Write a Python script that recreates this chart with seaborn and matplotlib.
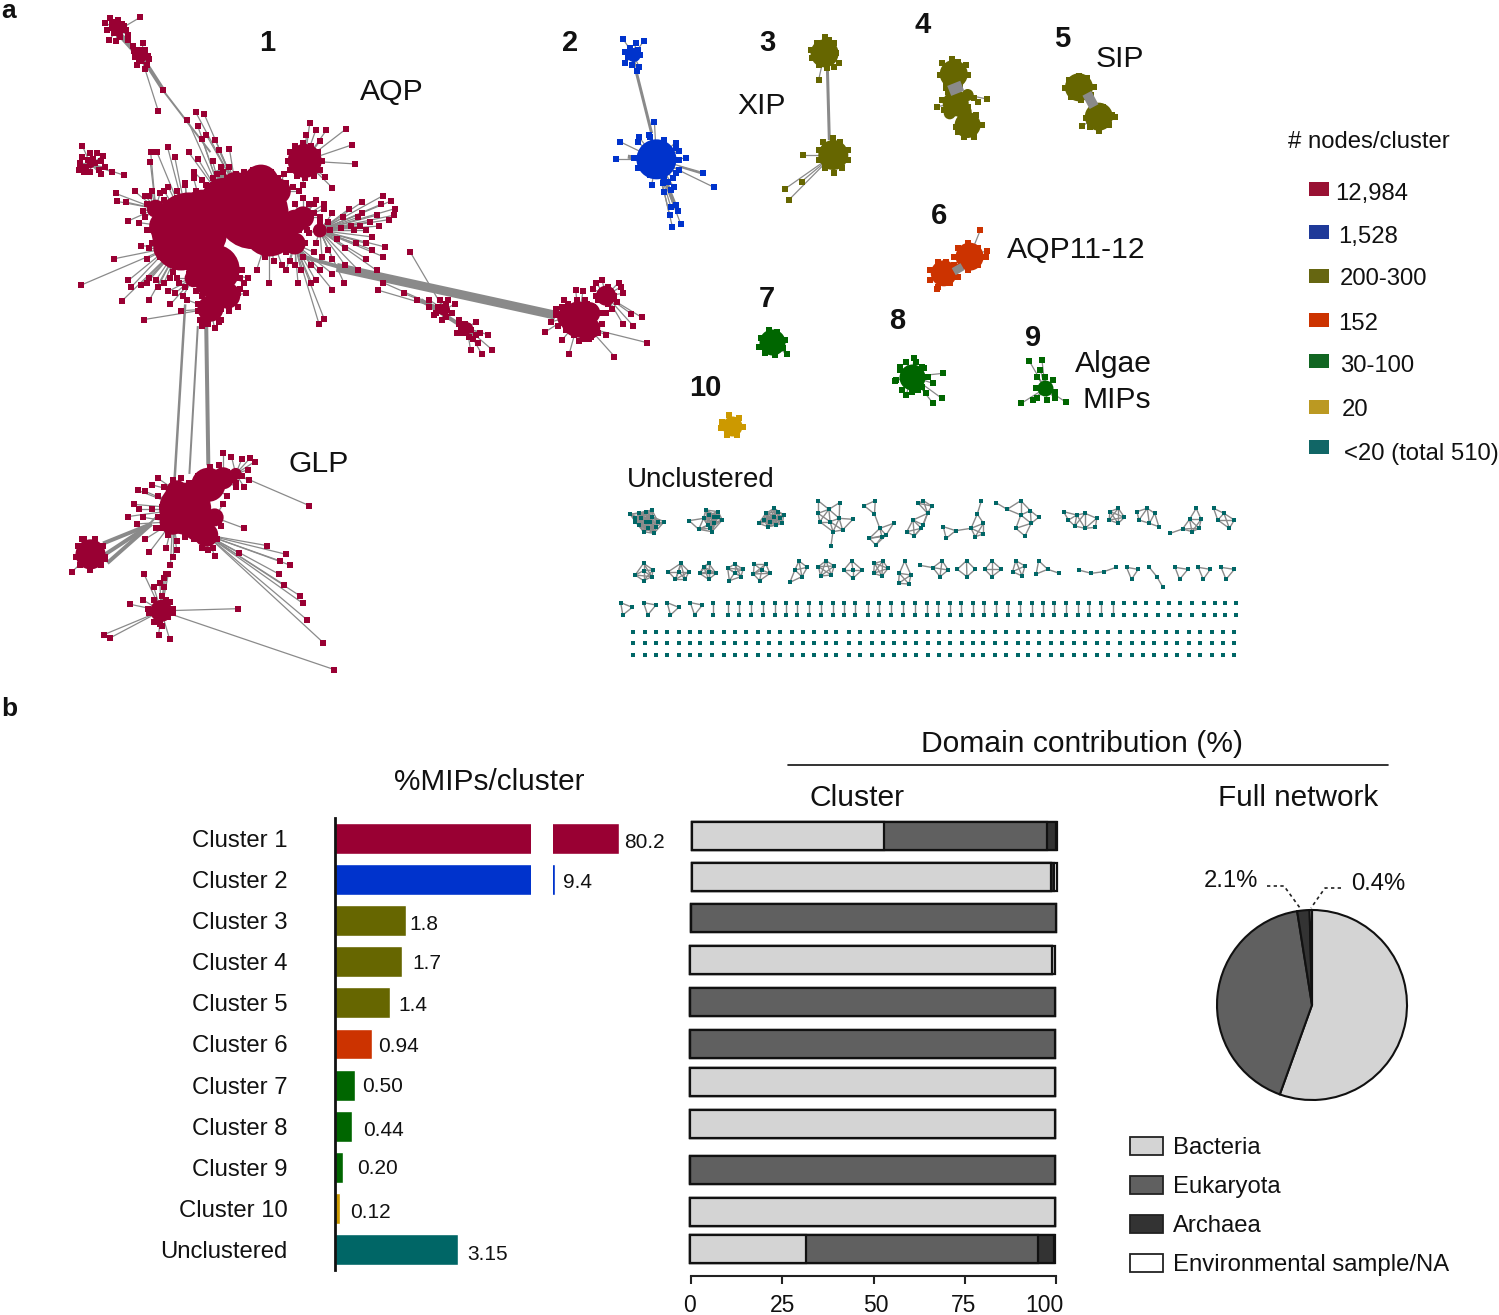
import numpy as np
import pandas as pd
import matplotlib
matplotlib.use('Agg')
import matplotlib.pyplot as plt
from matplotlib.collections import LineCollection
from matplotlib.patches import Rectangle
from matplotlib.transforms import ScaledTranslation
import seaborn as sns

W, H = 1499, 1315

# ---- panel b values
bar_names = ['Cluster 1', 'Cluster 2', 'Cluster 3', 'Cluster 4', 'Cluster 5', 'Cluster 6',
             'Cluster 7', 'Cluster 8', 'Cluster 9', 'Cluster 10', 'Unclustered']
bar_values = [80.2, 9.4, 1.8, 1.7, 1.4, 0.94, 0.50, 0.44, 0.20, 0.12, 3.15]
bar_labels = ['80.2', '9.4', '1.8', '1.7', '1.4', '0.94', '0.50', '0.44', '0.20', '0.12', '3.15']
bar_colors = ['#990033', '#0033cc', '#666600', '#666600', '#666600', '#cc3300',
              '#006600', '#006600', '#006600', '#cc9900', '#006666']

domain_names = ['Bacteria', 'Eukaryota', 'Archaea', 'Environmental sample/NA']
domain_colors = ['#d4d4d4', '#606060', '#333333', '#ffffff']
bacteria = [52.7, 98.3, 0, 99.2, 0, 0, 100, 100, 0, 100, 31.8]
eukaryota = [44.8, 0, 100, 0, 100, 100, 0, 0, 100, 0, 63.8]
archaea = [2.4, 0.9, 0, 0, 0, 0, 0, 0, 0, 0, 4.3]
environmental = [0.1, 0.8, 0, 0.8, 0, 0, 0, 0, 0, 0, 0.1]
row_y = [836, 877, 918, 960, 1002, 1044, 1082, 1124, 1170, 1212, 1249]

full_network = [55.5, 42, 2.1, 0.4]

c1_hubs = [(450, 530, 38), (600, 490, 36), (620, 420, 18), (510, 620, 25), (430, 560, 27), (640, 530, 26),
           (500, 710, 13), (724, 370, 17), (530, 460, 22), (700, 510, 12), (390, 520, 15), (400, 570, 15),
           (700, 560, 11), (720, 500, 11), (480, 480, 19), (560, 430, 15), (660, 440, 13), (470, 600, 15),
           (540, 680, 13), (500, 650, 15), (460, 640, 9), (760, 530, 7), (370, 480, 9),
           (1375, 735, 18), (1440, 680, 10), (1350, 730, 11), (1400, 720, 11), (1400, 755, 11),
           (1055, 712, 6), (1110, 755, 6), (440, 1170, 26), (495, 1115, 17), (490, 1230, 12),
           (420, 1130, 11), (410, 1200, 13), (470, 1210, 15), (510, 1190, 9), (530, 1100, 11), (560, 1090, 6),
           (215, 1275, 15), (383, 1405, 11), (280, 70, 6), (335, 130, 6), (215, 378, 4)]
c1_nodes = [(333, 40), (262, 42), (250, 52), (258, 92), (275, 60), (290, 55), (300, 70), (285, 85), (270, 75),
            (305, 92), (340, 100), (318, 118), (352, 128), (335, 140), (325, 150), (345, 158), (355, 135),
            (315, 105), (388, 207), (376, 255), (465, 258), (485, 262), (445, 275), (470, 290), (490, 310),
            (480, 320), (512, 322), (545, 342), (520, 345), (505, 370), (525, 385), (196, 336), (190, 375),
            (188, 392), (200, 395), (215, 352), (230, 352), (245, 358), (225, 375), (210, 368), (240, 400),
            (265, 395), (295, 403), (358, 350), (373, 350), (357, 372), (398, 338), (415, 360), (448, 350),
            (470, 365), (460, 395), (440, 420), (465, 440), (736, 282), (750, 300), (775, 300), (823, 296),
            (837, 333), (843, 377), (772, 407), (790, 432), (728, 310), (760, 325), (700, 340), (675, 400),
            (910, 450), (930, 462), (938, 480), (936, 495), (925, 505), (895, 495), (905, 470), (860, 465),
            (860, 490), (830, 480), (815, 500), (790, 490), (770, 480), (745, 470), (855, 520), (840, 530),
            (885, 545), (870, 560), (885, 575), (915, 568), (975, 580), (910, 590), (870, 595), (850, 620),
            (895, 622), (820, 610), (790, 630), (760, 620), (740, 650), (750, 645), (790, 667), (818, 652),
            (897, 667), (910, 650), (720, 590), (700, 610), (730, 530), (750, 560), (780, 575), (800, 550),
            (760, 510), (720, 510), (277, 463), (275, 445), (305, 508), (330, 512), (335, 565), (272, 595),
            (350, 595), (300, 465), (320, 440), (340, 485), (355, 450), (375, 500), (360, 530), (390, 440),
            (420, 455), (380, 590), (192, 656), (312, 660), (305, 645), (355, 640), (375, 660), (290, 692),
            (355, 690), (342, 735), (405, 700), (435, 680), (430, 715), (420, 640), (400, 670), (450, 630),
            (565, 705), (585, 675), (570, 640), (590, 640), (540, 700), (555, 690), (770, 733), (758, 745),
            (640, 650), (610, 620), (680, 620), (708, 650), (480, 750), (495, 745), (510, 755), (525, 735),
            (545, 715), (470, 715), (960, 675), (990, 690), (1020, 705), (1045, 690), (1065, 690), (1030, 725),
            (1050, 735), (1075, 720), (1090, 745), (1110, 750), (1130, 740), (1100, 765), (1125, 780),
            (1140, 765), (1160, 770), (1170, 805), (1145, 815), (1118, 805), (1135, 790), (1340, 690),
            (1368, 668), (1385, 670), (1415, 650), (1430, 643), (1445, 660), (1470, 650), (1480, 675),
            (1465, 695), (1440, 720), (1500, 722), (1525, 730), (1505, 750), (1480, 745), (1537, 788),
            (1460, 820), (1440, 770), (1400, 780), (1375, 785), (1352, 815), (1335, 783), (1310, 740),
            (1296, 763), (1320, 710), (1420, 690), (1395, 700), (595, 1053), (605, 1062), (530, 1042),
            (550, 1050), (575, 1055), (590, 1080), (592, 1105), (560, 1110), (735, 1163), (580, 1120),
            (360, 1115), (375, 1100), (328, 1128), (345, 1130), (318, 1160), (330, 1170), (340, 1190),
            (305, 1188), (325, 1205), (345, 1240), (355, 1270), (170, 1316), (195, 1240), (250, 1285),
            (580, 1215), (568, 1272), (510, 1278), (495, 1265), (520, 1200), (635, 1255), (665, 1290),
            (680, 1275), (690, 1300), (662, 1320), (675, 1345), (712, 1370), (720, 1388), (730, 1426),
            (768, 1478), (794, 1540), (565, 1400), (420, 1265), (405, 1300), (390, 1330), (342, 1320),
            (340, 1380), (310, 1390), (246, 1460), (262, 1467), (377, 1460), (403, 1470), (365, 1350),
            (395, 1380), (410, 1410), (355, 1410), (380, 1435)]
# denser fringe around the big lobes
c1_fringe = [(345, 450), (360, 440), (380, 445), (400, 430), (420, 440), (440, 425), (460, 410), (480, 415), (350, 470),
             (365, 480), (345, 500), (370, 510), (350, 530), (375, 545), (360, 560), (375, 575), (355, 570), (385, 590),
             (400, 600), (420, 610), (440, 600), (460, 620), (390, 460), (410, 470), (395, 490), (420, 490),
             (500, 430), (520, 420), (540, 410), (560, 400), (580, 395), (600, 390), (625, 390), (645, 395), (660, 410),
             (680, 420), (695, 430), (710, 440), (720, 425), (545, 385), (530, 395), (515, 400), (505, 410), (490, 425),
             (700, 470), (720, 455), (735, 470), (750, 460), (770, 470), (700, 490), (720, 490), (745, 490), (760, 500),
             (780, 510), (730, 510), (710, 530), (735, 535), (760, 535), (785, 530), (810, 525), (835, 520), (700, 555),
             (725, 560), (745, 580), (765, 590), (790, 595), (820, 570), (845, 560), (870, 530), (880, 510), (900, 520),
             (850, 500), (740, 610), (715, 620), (690, 600), (670, 610), (650, 600), (630, 590), (680, 580),
             (470, 590), (460, 610), (450, 640), (470, 650), (440, 660), (465, 670), (480, 680), (470, 700), (490, 690),
             (510, 680), (530, 670), (550, 650), (560, 630), (575, 620), (570, 665), (555, 680), (540, 695), (525, 710),
             (505, 725), (490, 735), (475, 735), (520, 740), (545, 705), (565, 675), (580, 650),
             (410, 625), (425, 650), (405, 640), (390, 650), (370, 645), (350, 650), (335, 655), (445, 690), (415, 675),
             (690, 350), (700, 335), (720, 330), (740, 335), (755, 350), (765, 370), (760, 390), (745, 405), (725, 410),
             (705, 405), (690, 390), (685, 370), (195, 360), (205, 385), (220, 365), (240, 370), (215, 395), (190, 385),
             (235, 390), (250, 385), (265, 50), (280, 45), (295, 60), (305, 80), (265, 65), (255, 70), (275, 95), (330, 115),
             (340, 125), (350, 150), (330, 135), (320, 130), (345, 115), (1020, 690), (1040, 705), (1060, 700), (1050, 715),
             (1080, 700), (1035, 720), (1060, 730), (1090, 735), (1105, 745), (1120, 760), (1130, 770), (1095, 755),
             (1085, 765), (1115, 775), (1320, 725), (1335, 705), (1350, 700), (1370, 690), (1390, 690), (1410, 705),
             (1425, 720), (1430, 745), (1420, 765), (1405, 775), (1385, 780), (1365, 770), (1345, 760), (1325, 750),
             (1415, 680), (1430, 670), (1450, 670), (1460, 680), (1445, 700), (1425, 690), (1410, 665), (1455, 710),
             (1475, 660), (390, 1120), (410, 1105), (430, 1100), (450, 1110), (470, 1095), (500, 1075), (520, 1070),
             (540, 1085), (555, 1100), (575, 1095), (560, 1120), (540, 1140), (530, 1160), (515, 1185), (525, 1210),
             (515, 1240), (505, 1260), (480, 1260), (460, 1240), (440, 1235), (420, 1245), (400, 1230), (385, 1215),
             (375, 1190), (385, 1165), (375, 1140), (360, 1170), (370, 1215), (395, 1260), (410, 1280), (400, 1320),
             (185, 1255), (200, 1240), (225, 1240), (245, 1255), (250, 1280), (240, 1300), (215, 1310), (190, 1300),
             (180, 1280), (365, 1380), (385, 1370), (405, 1385), (410, 1400), (400, 1420), (385, 1440), (365, 1430),
             (352, 1400), (390, 1350), (395, 1320), (380, 1340)]
c1_bundles = [(800, 615, 1320, 725, 9), (720, 590, 900, 640, 4), (385, 205, 500, 350, 2), (350, 150, 390, 210, 4),
              (490, 750, 495, 1070, 4), (440, 700, 415, 1100, 2.5), (470, 750, 450, 1090, 2),
              (360, 1205, 245, 1250, 4), (360, 1205, 250, 1275, 4), (360, 1205, 255, 1295, 4), (330, 1230, 370, 1190, 2),
              (280, 75, 350, 150, 5), (1000, 690, 1130, 770, 4), (520, 390, 530, 420, 8)]

c2_hubs = [(142, 478, 20), (85, 165, 7)]
c2_nodes = [(58, 117), (110, 123), (90, 130), (62, 155), (75, 145), (95, 150), (85, 170), (70, 170), (63, 188),
            (80, 195), (98, 200), (92, 212), (100, 165), (137, 367), (124, 405), (97, 410), (50, 425), (40, 478),
            (217, 475), (200, 452), (190, 428), (260, 518), (287, 562), (200, 510), (130, 555), (158, 550),
            (183, 535), (178, 570), (160, 575), (190, 615), (195, 632), (178, 620), (175, 645), (203, 672), (182, 680),
            (95, 425), (125, 410), (160, 420), (190, 445), (200, 480), (190, 520), (160, 530), (125, 525), (95, 505),
            (85, 475), (170, 545), (185, 560)]
c2_bundles = [(90, 210, 130, 400, 3), (160, 530, 190, 620, 4), (70, 470, 100, 475, 4), (200, 500, 255, 520, 2)]

c3_hubs = [(565, 160, 14), (587, 465, 15)]
c3_nodes = [(550, 240), (510, 465), (507, 545), (465, 567), (475, 600), (565, 112), (545, 130), (530, 150), (533, 175),
            (550, 195), (570, 205), (590, 200), (602, 190), (595, 160), (590, 130), (575, 120), (585, 415), (560, 425),
            (550, 450), (552, 480), (565, 505), (590, 518), (610, 505), (625, 480), (625, 450), (605, 425)]
c3_bundles = [(572, 200, 577, 420, 3)]

c4_hubs = [(890, 222, 14), (895, 310, 13), (925, 375, 13), (915, 335, 8), (880, 340, 6), (925, 285, 6)]
c4_nodes = [(973, 297), (952, 307), (848, 320), (870, 265), (885, 178), (860, 190), (855, 225), (870, 255), (905, 250),
            (925, 225), (920, 195), (900, 185), (875, 275), (860, 300), (865, 330), (925, 280), (940, 295), (905, 265),
            (880, 345), (895, 380), (915, 410), (940, 410), (960, 375), (945, 345), (925, 320), (900, 395)]
c4_bundles = [(890, 250, 900, 280, 14)]

c5_hubs = [(1205, 262, 14), (1255, 350, 14)]
c5_nodes = [(1212, 378), (1295, 350), (1205, 228), (1180, 240), (1170, 265), (1185, 290), (1210, 300), (1235, 285),
            (1242, 260), (1225, 235), (1240, 310), (1265, 320), (1288, 345), (1280, 375), (1255, 392), (1232, 380),
            (1222, 355), (1240, 325)]
c5_bundles = [(1225, 280, 1243, 320, 10)]

c6_hubs = [(930, 770, 14), (865, 820, 13)]
c6_nodes = [(957, 690), (973, 752), (847, 868), (925, 730), (900, 745), (890, 770), (900, 800), (925, 810), (950, 795),
            (970, 770), (950, 745), (850, 785), (830, 810), (830, 840), (850, 860), (880, 850), (900, 830), (890, 795),
            (870, 785)]
c6_bundles = [(890, 815, 912, 800, 8)]

c7_hubs = [(432, 1027, 13)]
c7_nodes = [(470, 1063), (440, 1065), (415, 1060), (425, 990), (405, 1015), (400, 1040), (460, 1045), (465, 1020), (445, 995)]

c8_hubs = [(785, 1130, 13)]
c8_nodes = [(790, 1075), (863, 1120), (860, 1195), (838, 1210), (838, 1150), (820, 1180), (770, 1185), (745, 1140),
            (810, 1100), (755, 1100), (800, 1170), (770, 1085), (755, 1110), (742, 1142), (760, 1170), (785, 1175),
            (810, 1160), (825, 1130), (815, 1105), (795, 1085)]

c9_hubs = [(1120, 1165, 8)]
c9_nodes = [(1080, 1083), (1112, 1080), (1108, 1110), (1060, 1210), (1090, 1200), (1173, 1207), (1145, 1195),
            (1100, 1130), (1098, 1165), (1100, 1195), (1125, 1200), (1145, 1175), (1140, 1140), (1120, 1130)]

c10_hubs = [(332, 1277, 10)]
c10_nodes = [(325, 1245), (308, 1265), (305, 1285), (320, 1305), (345, 1305), (360, 1280), (350, 1255)]

# small unclustered networks, rows
small_nets = [
    [(73, 163), (85, 175), (110, 155), (125, 170), (155, 185), (95, 195), (105, 215), (130, 220), (135, 200), (110, 185),
     (95, 160), (120, 185), (100, 175), (115, 205), (85, 185), (125, 150), (140, 185)],
    [(215, 182), (238, 208), (255, 150), (285, 155), (295, 180), (270, 215), (250, 175), (275, 190), (262, 165), (285, 170),
     (260, 195), (275, 170), (265, 205)],
    [(383, 190), (420, 145), (443, 165), (440, 190), (405, 200), (420, 170), (400, 160), (410, 185), (430, 155), (425, 195),
     (395, 180), (435, 175)],
    [(526, 122), (578, 128), (526, 160), (552, 148), (530, 185), (555, 185), (577, 175), (610, 178), (585, 210), (562, 215), (557, 258)],
    [(637, 137), (664, 122), (662, 162), (708, 190), (675, 205), (650, 235), (690, 225), (665, 255), (680, 230)],
    [(780, 122), (800, 138), (768, 130), (790, 160), (755, 180), (780, 195), (740, 215), (758, 228), (775, 205)],
    [(828, 200), (858, 212), (835, 235), (895, 205), (910, 162), (920, 122), (925, 190), (905, 230), (925, 222)],
    [(955, 128), (982, 148), (1015, 122), (1015, 165), (1038, 152), (1058, 172), (1003, 205), (1025, 228), (1040, 190)],
    [(1118, 155), (1130, 180), (1150, 165), (1170, 160), (1145, 198), (1170, 205), (1198, 175), (1195, 202)],
    [(1230, 155), (1250, 145), (1265, 172), (1250, 190), (1228, 180)],
    [(1295, 155), (1320, 145), (1338, 160), (1300, 180), (1325, 190), (1348, 200)],
    [(1375, 220), (1405, 207), (1428, 215), (1422, 178), (1450, 178), (1438, 145), (1445, 205)],
    [(1480, 145), (1505, 160), (1530, 180), (1490, 180), (1518, 205)],
    [(105, 310), (128, 330), (125, 350), (105, 362), (85, 345), (105, 332)],
    [(195, 310), (215, 335), (205, 358), (182, 358), (165, 335), (190, 335)],
    [(262, 310), (280, 340), (262, 358), (240, 340), (250, 320), (262, 335)],
    [(325, 312), (345, 328), (340, 350), (312, 362), (308, 325), (325, 338)],
    [(372, 312), (400, 312), (410, 340), (385, 362), (370, 342), (390, 330)],
    [(480, 303), (500, 322), (470, 330), (487, 350), (458, 367)],
    [(545, 302), (565, 318), (558, 345), (532, 348), (527, 320)],
    [(607, 302), (632, 330), (610, 355), (588, 330), (610, 330)],
    [(662, 310), (682, 303), (695, 325), (680, 348), (660, 340)],
    [(735, 303), (750, 345), (745, 372), (720, 370), (722, 340)],
    [(772, 316), (803, 323), (825, 302), (840, 330), (820, 350)],
    [(884, 302), (905, 328), (885, 350), (862, 328)],
    [(945, 302), (968, 328), (945, 350), (928, 328)],
    [(1003, 302), (1025, 318), (1018, 348), (995, 335)],
    [(1058, 302), (1080, 328), (1052, 342), (1108, 340)],
    [(1155, 330), (1185, 340), (1215, 335), (1245, 322)],
    [(1270, 322), (1298, 328), (1282, 358)],
    [(1325, 322), (1343, 350), (1358, 382)],
    [(1387, 322), (1418, 328), (1398, 358)],
    [(1443, 322), (1472, 328), (1455, 358)],
    [(1498, 322), (1530, 328), (1510, 358)],
    [(50, 428), (78, 442), (55, 465)],
    [(105, 428), (135, 435), (115, 465)],
    [(162, 428), (190, 442), (170, 465)],
    [(218, 428), (247, 435), (228, 465)],
]
pair_x = [273, 308, 336, 364, 392, 421, 449, 476, 505, 534, 561, 588, 616, 646, 674, 702, 730, 760, 788, 815,
          843, 871, 900, 926, 955, 984, 1012, 1041, 1068, 1096, 1125, 1153, 1180, 1208, 1238]
pair_y = [428, 465]
lone_pair_x = [1265, 1290, 1318, 1346, 1373, 1400, 1428, 1456, 1484, 1508, 1535]
lone_row_x = [80, 108, 135, 162, 190, 216, 242, 270, 298, 325, 353, 380, 408, 435, 462, 490, 516, 544, 570, 600,
              628, 655, 682, 708, 736, 762, 790, 818, 845, 872, 900, 925, 952, 980, 1008, 1033, 1060, 1088, 1115,
              1143, 1170, 1198, 1225, 1255, 1282, 1310, 1337, 1364, 1392, 1420, 1447, 1475, 1502, 1530]
lone_row_y = [515, 550, 584]

network_sizes = ['12,984', '1,528', '200-300', '152', '30-100', '20', '<20 (total 510)']
network_colors = ['#991133', '#1f3a99', '#666611', '#cc3300', '#116622', '#bb9922', '#116666']

sns.set_style('white')
plt.rcParams['font.family'] = ['Liberation Sans', 'DejaVu Sans']
plt.rcParams['text.color'] = '#111111'
plt.rcParams['xtick.labelcolor'] = '#111111'
plt.rcParams['ytick.labelcolor'] = '#111111'
EDGE = '#8a8a8a'
FS = 17.2

fig = plt.figure(figsize=(W / 100, H / 100), dpi=100, facecolor='white')


def px_axes(left, top, right, bottom):
    ax = fig.add_axes([left / W, 1 - bottom / H, (right - left) / W, (bottom - top) / H])
    ax.patch.set_alpha(0)
    return ax


page = px_axes(0, 0, W, H)
page.set_xlim(0, W)
page.set_ylim(H, 0)
page.set_axis_off()


def put(x, y, txt, size=FS, ha='center', **kw):
    # text sits about 2px high with va=center
    page.text(x, y + 2, txt, fontsize=size, ha=ha, va='center', **kw)


def from_crop(pts, x0, y0, fx, fy):
    arr = np.array(pts, dtype=float)
    arr[:, 0] = x0 + arr[:, 0] / fx
    arr[:, 1] = y0 + arr[:, 1] / fy
    return arr


def draw_network(hubs, nodes, bundles, color, x0, y0, fx, fy, node_size=13, bundle_z=1):
    hub_xy = from_crop([h[:2] for h in hubs], x0, y0, fx, fy)
    radius = np.array([h[2] for h in hubs], dtype=float)
    xy = from_crop(nodes, x0, y0, fx, fy)
    dist = np.sqrt(((xy[:, None, :] - hub_xy[None, :, :]) ** 2).sum(axis=2)) - radius
    nearest = np.argmin(dist, axis=1)
    segs = [[tuple(p), tuple(hub_xy[i])] for p, i in zip(xy, nearest)]
    page.add_collection(LineCollection(segs, colors=EDGE, linewidths=0.9, zorder=1))
    for b in bundles:
        a = from_crop([b[:2], b[2:4]], x0, y0, fx, fy)
        page.plot(a[:, 0], a[:, 1], color=EDGE, lw=b[4] * 0.72, zorder=bundle_z, solid_capstyle='butt')
    sns.scatterplot(x=hub_xy[:, 0], y=hub_xy[:, 1], s=(1.44 * radius) ** 2, color=color, linewidth=0,
                    ax=page, zorder=3, legend=False)
    sns.scatterplot(x=xy[:, 0], y=xy[:, 1], s=node_size, marker='s', color=color, linewidth=0,
                    ax=page, zorder=4, legend=False)


C1 = (0, 0, 2.376, 2.3)
C6 = (600, 0, 2.516, 3.0)
draw_network(c1_hubs, c1_nodes + c1_fringe, c1_bundles, '#990033', *C1)
draw_network(c2_hubs, c2_nodes, c2_bundles, '#0033cc', *C6)
draw_network(c3_hubs, c3_nodes, c3_bundles, '#666600', *C6)
draw_network(c4_hubs, c4_nodes, c4_bundles, '#666600', *C6, bundle_z=5)
draw_network(c5_hubs, c5_nodes, c5_bundles, '#666600', *C6, bundle_z=5)
draw_network(c6_hubs, c6_nodes, c6_bundles, '#cc3300', *C6, bundle_z=5)
draw_network(c7_hubs, c7_nodes, [], '#006600', *C6)
draw_network(c8_hubs, c8_nodes, [], '#006600', *C6)
draw_network(c9_hubs, c9_nodes, [], '#006600', *C6)
draw_network(c10_hubs, c10_nodes, [], '#cc9900', *C6)

# unclustered networks
U = (600, 460, 2.412, 3.0)
segs, pts = [], []
for net in small_nets:
    xy = from_crop(net, *U)
    pts.append(xy)
    for i in range(len(xy)):
        for j in range(i + 1, len(xy)):
            if np.hypot(*(xy[i] - xy[j])) < 17:
                segs.append([tuple(xy[i]), tuple(xy[j])])
for x in pair_x:
    xy = from_crop([(x, pair_y[0]), (x, pair_y[1])], *U)
    pts.append(xy)
    segs.append([tuple(xy[0]), tuple(xy[1])])
for x in lone_pair_x:
    pts.append(from_crop([(x, pair_y[0]), (x, pair_y[1])], *U))
for y in lone_row_y:
    pts.append(from_crop([(x, y) for x in lone_row_x], *U))
pts = np.vstack(pts)
page.add_collection(LineCollection(segs, colors=EDGE, linewidths=1.0, zorder=1))
sns.scatterplot(x=pts[:, 0], y=pts[:, 1], s=11, marker='s', color='#006666', linewidth=0, ax=page,
                zorder=4, legend=False)
page.set_xlim(0, W)
page.set_ylim(H, 0)

# bar chart, broken axis
left = px_axes(335, 818, 531, 1270)
sns.barplot(x=bar_values, y=bar_names, hue=bar_names, palette=bar_colors, saturation=1, width=0.75,
            legend=False, ax=left)
left.set_xlim(0, 5)
left.set_ylim(10.49, -0.49)
sns.despine(ax=left, bottom=True)
left.spines['left'].set_linewidth(2)
left.spines['left'].set_color('#111111')
left.set(xticks=[], xlabel='', ylabel='')
left.tick_params(axis='y', length=0, pad=34, labelsize=FS)

right = px_axes(553, 818, 619, 1270)
sns.barplot(x=bar_values, y=bar_names, hue=bar_names, palette=bar_colors, saturation=1, width=0.75,
            legend=False, ax=right)
right.set_xlim(7, 80.2)
right.set_ylim(10.49, -0.49)
right.set_axis_off()

label_x = [624, 563, 409, 412, 398, 378, 362, 363, 357, 350, 467]
label_y = [840, 880, 922, 961, 1003, 1045, 1085, 1128, 1167, 1210, 1253]
for txt, x, y in zip(bar_labels, label_x, label_y):
    put(x, y, txt, size=15, ha='left')

# stacked domain bars, layered from the full length down
stack = px_axes(691, 818, 1056, 1276)
parts = [bacteria, eukaryota, archaea, environmental]
cum = np.cumsum(np.array(parts), axis=0)
for k in range(3, -1, -1):
    sns.barplot(x=cum[k], y=row_y, orient='h', native_scale=True, width=28 / 38, color=domain_colors[k],
                saturation=1, edgecolor='#111111', linewidth=1.6, errorbar=None, ax=stack)
stack.set_xlim(0, 100)
stack.set_ylim(1276, 818)
# the rows are not quite flush in the original
row_shift = [0.5, 1, -0.5, -1.5, -1.5, -1.5, -1.5, -1.5, -1.5, -1.5, -1.5]
for p in stack.patches:
    row = int(np.argmin(np.abs(np.array(row_y) - (p.get_y() + p.get_height() / 2))))
    p.set_x(p.get_x() + row_shift[row] / 3.65)
    p.set_clip_on(False)
sns.despine(ax=stack, left=True)
stack.spines['bottom'].set_linewidth(1.5)
stack.spines['bottom'].set_color('#222222')
stack.set(yticks=[], xticks=[0, 25, 50, 75, 100], xlabel='', ylabel='')
stack.tick_params(axis='x', length=6, width=1.5, pad=7, labelsize=16.5, bottom=True, color='#222222')
for lab, dx in zip(stack.get_xticklabels(), [-2, 0, 2, -1, -12]):
    lab.set_transform(lab.get_transform() + ScaledTranslation(dx / 100, 0, fig.dpi_scale_trans))

# pie
pie_ax = px_axes(1212, 905, 1412, 1105)
pie_ax.pie(full_network, colors=domain_colors, startangle=90, counterclock=False, radius=1,
           wedgeprops=dict(edgecolor='#111111', linewidth=1.5))
pie_ax.set_xlim(-100 / 95, 100 / 95)
pie_ax.set_ylim(-100 / 95, 100 / 95)
put(1359, 993, '55.5%')
put(1254, 989, '42%')
put(1231, 879, '2.1%')
put(1378, 882, '0.4%')
page.plot([1267, 1284, 1300], [886, 886, 908], color='#222222', lw=1.2, ls=(0, (2, 2)))
page.plot([1341, 1325, 1311], [888, 888, 908], color='#222222', lw=1.2, ls=(0, (2, 2)))

# legends
for name, color, y in zip(domain_names, domain_colors, [1146, 1185, 1224, 1263]):
    page.add_patch(Rectangle((1130, y - 9), 33, 18, facecolor=color, edgecolor='#222222', lw=1.3))
    put(1173, y, name, ha='left')

put(1288, 140, '# nodes/cluster', ha='left')
for txt, color, tx, ty, ry in zip(network_sizes, network_colors,
                                  [1335, 1338, 1340, 1338, 1340, 1342, 1344],
                                  [192, 235, 277, 322, 364, 408, 452],
                                  [189, 232, 276, 320, 361, 407, 447]):
    page.add_patch(Rectangle((1309, ry - 7), 20, 14, facecolor=color, edgecolor='none'))
    put(tx, ty, txt, ha='left')

# titles and labels
put(1082, 742, 'Domain contribution (%)', size=21.6)
page.plot([788, 1388], [765, 765], color='#111111', lw=1.2)
put(857, 796, 'Cluster', size=21.6)
put(1298, 796, 'Full network', size=21.4)
put(489, 780, '%MIPs/cluster', size=21.4)
put(9, 9, 'a', size=19, fontweight='bold')
put(9, 707, 'b', size=19, fontweight='bold')

for txt, x, y in [('1', 267, 41), ('2', 570, 41), ('3', 767, 41), ('4', 923, 23), ('5', 1062, 37), ('6', 939, 214),
                  ('7', 767, 297), ('8', 897, 319), ('9', 1033, 336), ('10', 705, 386)]:
    put(x, y, txt, size=21, fontweight='bold')
for txt, x, y in [('AQP', 392, 90), ('XIP', 762, 104), ('SIP', 1120, 57), ('AQP11-12', 1076, 248), ('GLP', 319, 462),
                  ('Algae', 1113, 362), ('MIPs', 1117, 398)]:
    put(x, y, txt, size=21.7)
put(701, 478, 'Unclustered', size=20)

fig.savefig('out.png', dpi=100, facecolor='white')
